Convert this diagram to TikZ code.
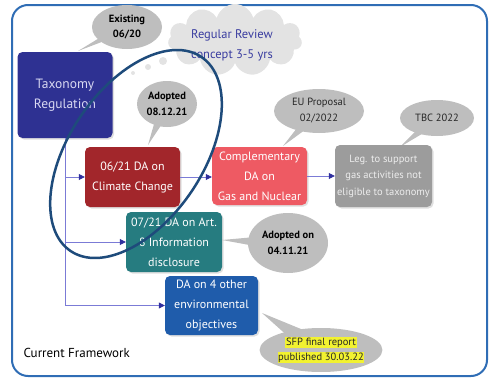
\documentclass[tikz,border=0pt]{standalone}
\usepackage{fontspec}
\setmainfont{PT Sans}
\usetikzlibrary{shapes.geometric,shapes.symbols,shadows,calc,arrows.meta}
\definecolor{framec}{HTML}{2F6DB5}
\definecolor{taxc}{HTML}{2E3192}
\definecolor{taxtext}{HTML}{D8D8F2}
\definecolor{c621c}{HTML}{A2262B}
\definecolor{compc}{HTML}{EE5A63}
\definecolor{legc}{HTML}{9C9C9C}
\definecolor{legtext}{HTML}{EDEDED}
\definecolor{c721c}{HTML}{267C80}
\definecolor{da4c}{HTML}{1F5CAB}
\definecolor{callg}{HTML}{BEBEBE}
\definecolor{cloudc}{HTML}{E3E3E3}
\definecolor{cloudtext}{HTML}{3A3DA0}
\definecolor{connc}{HTML}{7B7BD6}
\definecolor{arrowc}{HTML}{2F2F9E}
\definecolor{ringc}{HTML}{1E4B7B}
\definecolor{hl}{HTML}{F2F230}
\pgfdeclarelayer{bg}
\pgfsetlayers{bg,main}
\begin{document}
\begin{tikzpicture}[x=1pt,y=-1pt,
  box/.style={rounded corners=5pt, minimum width=95pt, minimum height=60pt, align=center,
    text=white, font=\fontsize{12}{20}\selectfont, inner sep=1pt,
    drop shadow={opacity=0.25,shadow xshift=1.5pt,shadow yshift=-1.5pt}},
  callout/.style={ellipse, fill=callg, inner sep=0pt, align=center, text=black,
    font=\bfseries\fontsize{10.5}{15.5}\selectfont},
  calloutreg/.style={callout, text=black!85, font=\fontsize{10.5}{16}\selectfont},
  conn/.style={draw=connc, line width=0.8pt, -{Triangle[length=6pt,width=6pt,color=arrowc]}},
]
\useasboundingbox (0,0) rectangle (491,380);
\draw[framec, line width=2pt, rounded corners=16pt] (12,5) rectangle (487,376);

% cloud
\node[cloud, cloud puffs=11, aspect=2.0, fill=cloudc, minimum width=134pt, minimum height=72pt, inner sep=0pt] (cloud) at (235,40) {};
\fill[cloudc] (163,61) circle (4pt);
\fill[cloudc] (148,67) circle (3pt);
\fill[cloudc] (133,73) circle (2pt);
\node[text=cloudtext, font=\fontsize{12.5}{20}\selectfont, align=center] (cloudtxt) at (232,45) {Regular Review\\concept 3-5 yrs};

% boxes
\node[box, fill=taxc, minimum height=86pt, text=taxtext, font=\fontsize{13.5}{20}\selectfont] (tax) at (65,95) {Taxonomy\\Regulation};
\node[box, fill=c621c] (c621) at (132.5,177) {06/21 DA on\\Climate Change};
\node[box, fill=compc, minimum height=58pt] (comp) at (259.5,176) {Complementary\\DA on\\Gas and Nuclear};
\node[box, fill=legc, minimum width=97pt, minimum height=62pt, text=legtext, font=\fontsize{10.5}{16.5}\selectfont] (leg) at (383.5,176) {Leg. to support\\gas activities not\\eligible to taxonomy};
\node[box, fill=c721c, minimum width=96pt] (c721) at (174,242) {07/21 DA on Art.\\8 Information\\disclosure};
\node[box, fill=da4c, minimum width=93pt, minimum height=59pt] (da4) at (211.5,305.5) {DA on 4 other\\environmental\\objectives};

% connectors
\draw[conn] (tax.south) |- (c621.west);
\draw[conn] (tax.south) |- (c721.west);
\draw[conn] (tax.south) |- (da4.west);
\draw[conn] (c621.east) -- (c621.east -| comp.west);
\draw[conn] (comp.east) -- (comp.east -| leg.west);

% callouts
\node[callout, minimum width=70pt, minimum height=44pt] (exist) at (127,27) {Existing\\06/20};
\coordinate (exist-tip) at (78,51);
\node[callout, minimum width=60pt, minimum height=46pt] (ad1) at (167,104) {Adopted\\08.12.21};
\coordinate (ad1-tip) at (148,145);
\node[calloutreg, minimum width=90pt, minimum height=44pt] (eu) at (319,111) {EU Proposal\\02/2022};
\coordinate (eu-tip) at (283,146);
\node[calloutreg, minimum width=74pt, minimum height=36pt] (tbc) at (437,118) {TBC 2022};
\coordinate (tbc-tip) at (400,147);
\node[callout, minimum width=80pt, minimum height=60pt] (ad2) at (288,243) {Adopted on\\04.11.21};
\coordinate (ad2-tip) at (222,240);
\node[calloutreg, minimum width=122pt, minimum height=44pt, font=\fontsize{10.5}{15}\selectfont] (sfp) at (321,350)
  {\setlength\fboxsep{0.6pt}\colorbox{hl}{SFP final report}\\\setlength\fboxsep{0.6pt}\colorbox{hl}{published 30.03.22}};
\coordinate (sfp-tip) at (262,313);
\begin{pgfonlayer}{bg}
\foreach \n/\w in {exist/5,ad1/7,eu/7,tbc/6,ad2/9,sfp/12}
  \fill[callg] ($(\n.center)!\w pt!90:(\n-tip)$) -- (\n-tip) -- ($(\n.center)!\w pt!-90:(\n-tip)$) -- cycle;
\end{pgfonlayer}

\node[anchor=west, font=\fontsize{13}{15}\selectfont] (cf) at (20,353) {Current Framework};

% highlight ring
\draw[ringc, line width=2.5pt, rotate around={56:(136,154)}] (136,154) ellipse [x radius=117pt, y radius=67pt];
\end{tikzpicture}
\end{document}
